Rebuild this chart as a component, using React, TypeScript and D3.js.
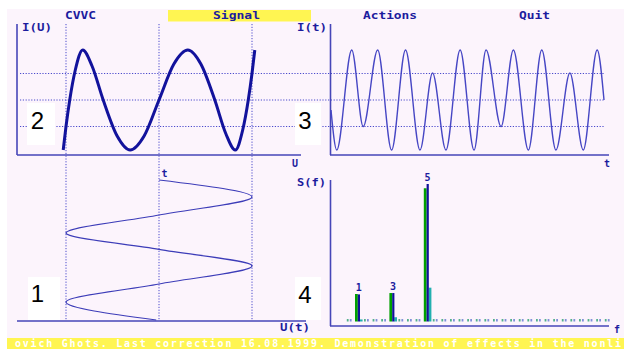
import React from "react";
import * as d3 from "d3";

const W = 624;
const H = 349;

const menuLabels = ["CVVC", "Signal", "Actions", "Quit"];
const statusText = "ovich Ghots. Last correction 16.08.1999. Demonstration of effects in the nonli";
const panelNumbers = ["1", "2", "3", "4"];

// Panel 2 – characteristic I(U)
const charU = [-1.03, -1.0, -0.96, -0.9, -0.82, -0.72, -0.6, -0.45, -0.31, -0.16, 0, 0.16, 0.31, 0.45, 0.6, 0.72, 0.82, 0.9, 0.96, 1.0, 1.03];
const charI = [-1.0, -0.53, 0, 0.6, 1.0, 0.68, 0, -0.72, -1.0, -0.72, 0, 0.72, 1.0, 0.72, 0, -0.68, -1.0, -0.6, 0, 0.53, 1.0];

// Panel 3 – output I(t)
const sigT = [0, 0.21, 0.76, 1.18, 1.71, 2.22, 2.73, 3.26, 3.72, 4.21, 4.73, 5.24, 5.68, 6.23, 6.68, 7.23, 7.72, 8.24, 8.75, 9.24, 9.75, 10];
const sigI = [-0.2, -1, 1, -0.53, 1, -1, 1, -1, 0.54, -1, 1, -1, 1, -0.53, 1, -1, 1, -1, 0.54, -1, 1, 0];

// Panel 1 – input U(t)
const inT = [0, 1.21, 2.5, 3.79, 4.96, 6.14, 7.43, 8.71, 10];
const inU = [0, 1, 0, -1, 0, 1, 0, -1, -0.03];

// Grid levels
const gridI = [-0.53, 0, 0.53];
const gridU = [-1, 0, 1];

// Panel 4 – spectrum S(f)
const specF = [0.5, 1, 1.5, 2, 2.5, 3, 3.5, 4, 4.5, 5, 5.5, 6, 6.5, 7, 7.5, 8, 8.5, 9, 9.5, 10, 10.5, 11, 11.5, 12, 12.5, 13, 13.5, 14, 14.5, 15, 15.5];
const specGreen = [0.018, 0.2, 0.018, 0.018, 0.018, 0.207, 0.018, 0.018, 0.018, 0.969, 0.018, 0.018, 0.018, 0.018, 0.018, 0.018, 0.018, 0.018, 0.018, 0.018, 0.018, 0.018, 0.018, 0.018, 0.018, 0.018, 0.018, 0.018, 0.018, 0.018, 0.018];
const specBlue = [0.018, 0.197, 0.018, 0.018, 0.018, 0.207, 0.018, 0.018, 0.018, 1.0, 0.018, 0.018, 0.018, 0.018, 0.018, 0.018, 0.018, 0.018, 0.018, 0.018, 0.018, 0.018, 0.018, 0.018, 0.018, 0.018, 0.018, 0.018, 0.018, 0.018, 0.018];
const specTeal = [0, 0.015, 0, 0, 0, 0.031, 0, 0, 0, 0.246, 0, 0, 0, 0, 0, 0, 0, 0, 0, 0, 0, 0, 0, 0, 0, 0, 0, 0, 0, 0, 0];
const specLabels = ["1", "3", "5"];
const specLabelF = [1, 3, 5];

const PINK = "#fcf4fc";
const YELLOW = "#fff552";
const NAVY = "#1c1c9e";
const AXIS = "#4646b8";
const DOT = "#4a4acc";
const MONO = "'DejaVu Sans Mono', 'Liberation Mono', monospace";

export default function App() {
  const uX = d3.scaleLinear().domain([-1, 1]).range([66, 252]);
  const iY = d3.scaleLinear().domain([-1, 1]).range([150, 50]);
  const tX3 = d3.scaleLinear().domain([0, 10]).range([331, 604]);
  const tY1 = d3.scaleLinear().domain([0, 10]).range([180, 320]);
  const fX = d3.scaleLinear().domain([0, 15.5]).range([341, 607.6]);
  const sY = d3.scaleLinear().domain([0, 1]).range([321.5, 184]);

  const charPath = d3
    .line<number>()
    .x((i) => uX(charU[i]))
    .y((i) => iY(charI[i]))
    .curve(d3.curveMonotoneX)(d3.range(charU.length)) as string;

  const sigPath = d3
    .line<number>()
    .x((i) => tX3(sigT[i]))
    .y((i) => iY(sigI[i]))
    .curve(d3.curveMonotoneX)(d3.range(sigT.length)) as string;

  const inPath = d3
    .line<number>()
    .x((i) => uX(inU[i]))
    .y((i) => tY1(inT[i]))
    .curve(d3.curveMonotoneY)(d3.range(inT.length)) as string;

  const menuPos = [
    { x: 65, w: 31 },
    { x: 213, w: 47 },
    { x: 363, w: 54 },
    { x: 519, w: 31 },
  ];

  const txt = (s: string, x: number, y: number, w?: number, anchor = "start") => (
    <text
      key={s + x + y}
      x={x}
      y={y}
      fontFamily={MONO}
      fontWeight="bold"
      fontSize={10}
      fill={NAVY}
      textAnchor={anchor}
      {...(w ? { textLength: w, lengthAdjust: "spacingAndGlyphs" } : {})}
    >
      {s}
    </text>
  );

  const numBoxes = [
    { x: 28, y: 277, w: 32, h: 43, tx: 37.5, ty: 302 },
    { x: 27, y: 103, w: 28, h: 42, tx: 37.5, ty: 129 },
    { x: 295, y: 103, w: 26, h: 42, tx: 305, ty: 129 },
    { x: 295, y: 277, w: 26, h: 43, tx: 305, ty: 303 },
  ];

  return (
    <svg
      width={W}
      height={H}
      viewBox={`0 0 ${W} ${H}`}
      style={{ position: "absolute", left: 0, top: 0, background: "#ffffff" }}
    >
      <rect x={7} y={9} width={W - 7} height={H - 9} fill={PINK} />

      {/* menu */}
      <rect x={168} y={10} width={143} height={11.5} fill={YELLOW} />
      {menuLabels.map((m, i) => txt(m, menuPos[i].x, 18.5, menuPos[i].w))}

      {/* dotted grid */}
      {gridI.map((v) => (
        <line key={"h" + v} x1={20} x2={605} y1={iY(v)} y2={iY(v)} stroke={DOT} strokeWidth={1} strokeDasharray="1.2 1.6" />
      ))}
      {gridU.map((v) => (
        <line key={"v" + v} x1={uX(v)} x2={uX(v)} y1={24} y2={320} stroke={DOT} strokeWidth={1} strokeDasharray="1.2 1.6" />
      ))}

      {/* axes */}
      <line x1={17} x2={17} y1={24} y2={155} stroke={AXIS} strokeWidth={1.6} />
      <line x1={17} x2={301} y1={155} y2={155} stroke={AXIS} strokeWidth={1.6} />
      <line x1={330.5} x2={330.5} y1={24} y2={155} stroke={AXIS} strokeWidth={1.6} />
      <line x1={330} x2={609} y1={155} y2={155} stroke={AXIS} strokeWidth={1.6} />
      <line x1={17} x2={306} y1={321} y2={321} stroke={AXIS} strokeWidth={1.6} />
      <line x1={330.5} x2={330.5} y1={180} y2={326} stroke={AXIS} strokeWidth={1.6} />
      <line x1={330} x2={609} y1={326} y2={326} stroke={AXIS} strokeWidth={1.6} />

      {/* curves */}
      <path d={charPath} fill="none" stroke="#12129c" strokeWidth={3} strokeLinejoin="round" />
      <path d={sigPath} fill="none" stroke="#4646c4" strokeWidth={1.4} />
      <path d={inPath} fill="none" stroke="#3c3cb8" strokeWidth={1.2} />

      {/* spectrum */}
      {specF.map((f, i) => {
        const big = specTeal[i] > 0;
        return (
          <g key={"s" + f}>
            {big && (
              <rect x={fX(f) + 1.6} y={sY(specTeal[i])} width={2.8} height={sY(0) - sY(specTeal[i])} fill="#22b0b0" />
            )}
            <rect
              x={fX(f) - (big ? 3.2 : 2.8)}
              y={sY(specGreen[i])}
              width={big ? 2.8 : 1.8}
              height={sY(0) - sY(specGreen[i])}
              fill={big ? "#00a000" : "#52b08a"}
            />
            <rect
              x={fX(f) - (big ? 0.4 : -0.2)}
              y={sY(specBlue[i])}
              width={big ? 2.2 : 1.8}
              height={sY(0) - sY(specBlue[i])}
              fill={big ? "#10109a" : "#7f8fd8"}
            />
          </g>
        );
      })}
      {specLabels.map((s, i) => txt(s, fX(specLabelF[i]) + 0.5, sY(specBlue[specF.indexOf(specLabelF[i])]) - 3, undefined, "middle"))}

      {/* axis labels */}
      {txt("I(U)", 22, 31, 30)}
      {txt("I(t)", 297, 31, 30)}
      {txt("U", 292, 166.5)}
      {txt("t", 604, 166.5)}
      {txt("t", 161.5, 176.5)}
      {txt("S(f)", 297, 186, 29)}
      {txt("U(t)", 280, 331, 30)}
      {txt("f", 614, 332.5)}

      {/* panel number boxes */}
      {numBoxes.map((b, i) => (
        <g key={"n" + i}>
          <rect x={b.x} y={b.y} width={b.w} height={b.h} fill="#ffffff" />
          <text x={b.tx} y={b.ty} fontFamily="'Liberation Sans', Arial, sans-serif" fontSize={24} fill="#000" textAnchor="middle">
            {panelNumbers[i]}
          </text>
        </g>
      ))}

      {/* status bar */}
      <rect x={7} y={338} width={W - 7} height={H - 338} fill={YELLOW} />
      <text x={15} y={346.5} fontFamily={MONO} fontWeight="bold" fontSize={10} fill="#ffffff" textLength={606} lengthAdjust="spacing">
        {statusText}
      </text>
    </svg>
  );
}
